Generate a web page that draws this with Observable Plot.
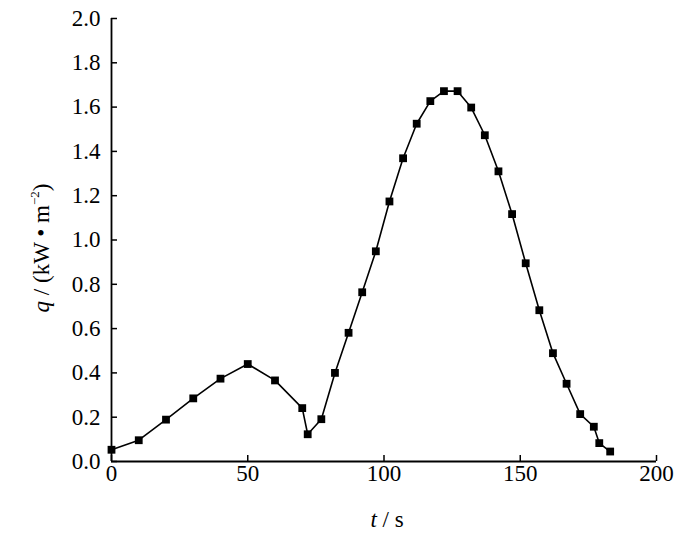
<!DOCTYPE html>
<html><head><meta charset="utf-8">
<script src="https://cdn.jsdelivr.net/npm/d3@7"></script>
<script src="https://cdn.jsdelivr.net/npm/@observablehq/plot@0.6"></script>
<style>
body{margin:0;background:#fff;overflow:hidden;}
svg, svg text{font-family:"Liberation Serif","DejaVu Serif",serif !important;}
</style></head>
<body><div id="chart"></div>
<script>
const tValues = [0,10,20,30,40,50,60,70,72,77,82,87,92,97,102,107,112,117,122,127,132,137,142,147,152,157,162,167,172,177,179,183];
const qValues = [0.053,0.096,0.189,0.285,0.374,0.440,0.366,0.241,0.123,0.191,0.400,0.581,0.764,0.949,1.174,1.369,1.525,1.627,1.672,1.672,1.598,1.473,1.310,1.117,0.895,0.683,0.489,0.351,0.214,0.157,0.083,0.045];
const xTicks = [0,50,100,150,200];
const yTicks = [0,0.2,0.4,0.6,0.8,1.0,1.2,1.4,1.6,1.8,2.0];

const data = tValues.map((t,i)=>({t, q:qValues[i]}));
const W=700,H=538, mL=111, mR=44, mT=18, mB=77;
const FONT = "Liberation Serif";
const yTickLen = 6/(W-mL-mR)*200;

const chart = Plot.plot({
  width:W, height:H,
  marginLeft:mL, marginRight:mR, marginTop:mT, marginBottom:mB,
  x:{domain:[0,200], label:null, axis:null},
  y:{domain:[0,2], label:null, axis:null},
  marks:[
    Plot.text(xTicks,{x:d=>d, y:0, text:d=>String(d), dy:12, lineAnchor:"middle", textAnchor:"middle", fontSize:23, fontFamily:FONT, fill:"#000"}),
    Plot.text(yTicks,{x:0, y:d=>d, text:d=>d.toFixed(1), dx:-11, lineAnchor:"middle", textAnchor:"end", fontSize:23, fontFamily:FONT, fill:"#000"}),
    Plot.ruleX(xTicks,{x:d=>d, y1:0, y2:6/221.5, stroke:"#000", strokeWidth:1.5}),
    Plot.ruleY(yTicks,{y:d=>d, x1:0, x2:yTickLen, stroke:"#000", strokeWidth:1.5}),
    Plot.ruleX([0],{y1:0, y2:2, stroke:"#000", strokeWidth:1.8}),
    Plot.ruleY([0],{x1:0, x2:200, stroke:"#000", strokeWidth:1.8}),
    Plot.line(data,{x:"t", y:"q", stroke:"#000", strokeWidth:1.6}),
    Plot.dot(data,{x:"t", y:"q", symbol:"square", r:4.4, fill:"#000", stroke:"none"})
  ]
});
const svg = d3.select(chart);
const xl = svg.append("text").attr("x", 387).attr("y", 527)
  .attr("text-anchor","middle").attr("font-size",23).attr("font-family",FONT).attr("fill","#000");
xl.append("tspan").attr("font-style","italic").text("t");
xl.append("tspan").text(" / s");
const yl = svg.append("text").attr("transform",`translate(49,248) rotate(-90)`)
  .attr("text-anchor","middle").attr("font-size",23).attr("font-family",FONT).attr("fill","#000");
yl.append("tspan").attr("font-style","italic").text("q");
yl.append("tspan").text(" / (kW • m");
yl.append("tspan").attr("font-size",13).attr("dy",-10).text("−2");
yl.append("tspan").attr("dy",10).text(")");
document.getElementById("chart").appendChild(chart);
</script>
</body></html>
